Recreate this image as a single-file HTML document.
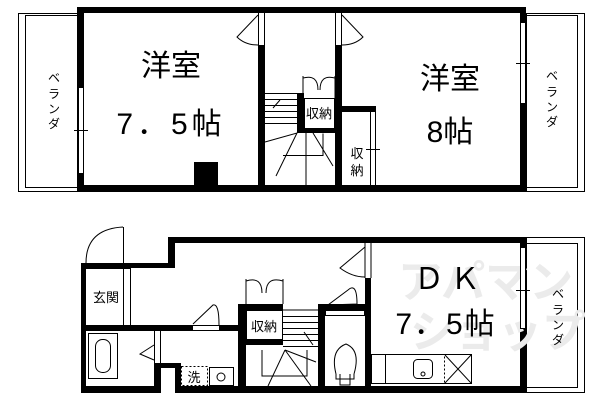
<!DOCTYPE html>
<html><head><meta charset="utf-8"><style>
html,body{margin:0;padding:0;background:#fff}
svg{display:block}
text{font-family:"Liberation Sans","Noto Sans CJK JP",sans-serif;fill:#000}
</style></head><body>
<svg width="600" height="400" viewBox="0 0 600 400" xmlns="http://www.w3.org/2000/svg">
<g fill="none" stroke="#000" stroke-width="1">
<rect x="18.5" y="13.5" width="59" height="178"/>
<rect x="25.5" y="15.5" width="52" height="172"/>
<rect x="526.5" y="13.5" width="58" height="178"/>
<rect x="526.5" y="15.5" width="51" height="172"/>
</g>
<g fill="#000">
<rect x="77" y="7" width="449" height="6"/>
<rect x="77" y="185" width="449" height="7"/>
<rect x="77" y="7" width="7" height="185"/>
<rect x="520" y="7" width="6" height="185"/>
<rect x="258" y="45" width="7" height="147"/>
<rect x="335" y="45" width="7" height="147"/>
<rect x="297" y="93" width="7" height="40"/>
<rect x="297" y="128" width="45" height="5"/>
<rect x="342" y="106" width="34" height="6"/>
<rect x="194" y="162" width="24" height="23"/>
</g>
<g fill="#fff" stroke="#000" stroke-width="1">
<rect x="78.5" y="87.5" width="5" height="86"/>
<rect x="520.5" y="22.5" width="5" height="81"/>
<rect x="304.5" y="98.5" width="30" height="30"/>
</g>
<g fill="none" stroke="#000" stroke-width="1">
<line x1="258.5" y1="13" x2="258.5" y2="45"/><line x1="264.5" y1="13" x2="264.5" y2="45"/>
<line x1="335.5" y1="13" x2="335.5" y2="45"/><line x1="341.5" y1="13" x2="341.5" y2="45"/>
<path d="M258 15 L237 37 Q245 45 258 45"/>
<path d="M342 15 L363 37 Q355 45 342 45"/>
<line x1="370.5" y1="112" x2="370.5" y2="185"/><line x1="375.5" y1="112" x2="375.5" y2="185"/>
<line x1="366" y1="149.5" x2="380" y2="149.5"/>
<line x1="74" y1="130.5" x2="88" y2="130.5"/>
<line x1="516" y1="63.5" x2="530" y2="63.5"/>
<line x1="265" y1="93.5" x2="297" y2="93.5"/>
<line x1="265" y1="99.5" x2="297" y2="99.5"/>
<line x1="265" y1="105.5" x2="297" y2="105.5"/>
<line x1="265" y1="111.5" x2="297" y2="111.5"/>
<line x1="265" y1="117.5" x2="297" y2="117.5"/>
<line x1="265" y1="123.5" x2="297" y2="123.5"/>
<path d="M303 76 v22 M335 76 v22 M303 78 Q318 74 318 90 M335 78 Q320 74 320 90"/>
<path d="M283 155.5 h40 v-22 M306 133 v52 M265 142 L297 133 L276 176 M313 133 L333 166 M273 108 L280 100"/>
<rect x="526.5" y="237.5" width="58" height="155"/>
<rect x="526.5" y="243.5" width="51" height="144"/>
</g>
<g fill="#000">
<rect x="168" y="237" width="358" height="6"/>
<rect x="168" y="237" width="7" height="31"/>
<rect x="81" y="263" width="94" height="5"/>
<rect x="81" y="263" width="5" height="130"/>
<rect x="81" y="386" width="79" height="7"/>
<rect x="154" y="363" width="7" height="30"/>
<rect x="154" y="363" width="27" height="5"/>
<rect x="175" y="363" width="6" height="30"/>
<rect x="175" y="386" width="351" height="7"/>
<rect x="520" y="237" width="6" height="156"/>
<rect x="86" y="325" width="153" height="6"/>
<rect x="238" y="304" width="8" height="89"/>
<rect x="238" y="304" width="45" height="6"/>
<rect x="238" y="339" width="45" height="6"/>
<rect x="318" y="304" width="7" height="89"/>
<rect x="318" y="304" width="49" height="6"/>
<rect x="365" y="278" width="6" height="115"/>
</g>
<g>
<text x="398" y="297" font-size="44" font-weight="bold" style="fill:#ebebeb">アパマン</text>
<text x="410" y="347" font-size="44" font-weight="bold" style="fill:#ebebeb">ショップ</text>
</g>
<g fill="#fff" stroke="#000" stroke-width="1">
<rect x="520.5" y="247.5" width="5" height="81"/>
<rect x="192.5" y="325.5" width="27" height="5"/>
<rect x="246.5" y="310.5" width="36" height="29"/>
<rect x="325.5" y="310.5" width="39" height="5"/>
</g>
<g fill="none" stroke="#000" stroke-width="1">
<path d="M123.5 227 v36 M86 263 Q86 229 123 227"/>
<path d="M86 268.5 h45 M123.5 268 v57 M130.5 268 v57"/>
<path d="M219 325 Q219 303 213 305 L193 324"/>
<rect x="88.5" y="333.5" width="29" height="45"/>
<rect x="95.5" y="339.5" width="15" height="33" rx="7"/>
<path d="M154.5 331 v33 M160.5 331 v33 M154 345 L140 354 L154 360"/>
<rect x="181.5" y="366.5" width="26" height="19" stroke-dasharray="2,2"/>
<rect x="209.5" y="367.5" width="24" height="18"/>
<circle cx="221" cy="377" r="4"/>
<path d="M246 279 v25 M283 279 v25 M246 281 Q262 276 262 293 M283 281 Q266 276 266 293"/>
<path d="M283 310 h35 M283 316.5 h35 M283 322.5 h35 M283 328.5 h35 M283 334.5 h35 M283 340.5 h35 M283 346.5 h35"/>
<path d="M262 350 v26 h45 v-26 M285 350 L268 386 M285 350 L311 386 M285 350 L316 362 M304 332 L313 345"/>
<path d="M365 243 v35 M371 243 v35 M365 247 L340 268 Q352 277 365 277"/>
<path d="M357 304 L328 305 L348 290 Q357 282 357 304"/>
<path d="M336 374 Q330 350 346 344 Q361 350 354 374 M336 374 v5 h18 v-5 M340 374 v11 h10 v-11"/>
<rect x="371.5" y="354.5" width="100" height="29"/>
<line x1="385.5" y1="354" x2="385.5" y2="384"/>
<rect x="413.5" y="359.5" width="19" height="19" rx="4"/>
<circle cx="423" cy="374" r="2"/>
<rect x="444.5" y="354.5" width="27" height="29" stroke-dasharray="2,2"/>
<path d="M445 355 L471 383 M471 355 L445 383"/>
<line x1="516" y1="290.5" x2="530" y2="290.5"/>
</g>
<text x="171" y="76" font-size="30" text-anchor="middle">洋室</text>
<text x="171" y="134" font-size="30" text-anchor="middle" letter-spacing="4">7．5帖</text>
<text x="450" y="89" font-size="30" text-anchor="middle">洋室</text>
<text x="450" y="142" font-size="30" text-anchor="middle">8帖</text>
<text x="319" y="118" font-size="13" text-anchor="middle">収納</text>
<text x="357" y="158" font-size="13" text-anchor="middle">収</text>
<text x="357" y="175" font-size="13" text-anchor="middle">納</text>
<g font-size="12" text-anchor="middle">
<text x="54" y="82">ベ</text><text x="54" y="98">ラ</text><text x="54" y="113">ン</text><text x="54" y="128">ダ</text>
<text x="552" y="80">ベ</text><text x="552" y="96">ラ</text><text x="552" y="111">ン</text><text x="552" y="126">ダ</text>
<text x="558" y="298">ベ</text><text x="558" y="314">ラ</text><text x="558" y="329">ン</text><text x="558" y="344">ダ</text>
</g>
<text x="106" y="302" font-size="13" text-anchor="middle">玄関</text>
<text x="264" y="331" font-size="13" text-anchor="middle">収納</text>
<text x="194" y="382" font-size="13" text-anchor="middle">洗</text>
<text x="450" y="289" font-size="30" text-anchor="middle" letter-spacing="6">ＤＫ</text>
<text x="446" y="334" font-size="30" text-anchor="middle" letter-spacing="2">7．5帖</text>
</svg>
</body></html>
